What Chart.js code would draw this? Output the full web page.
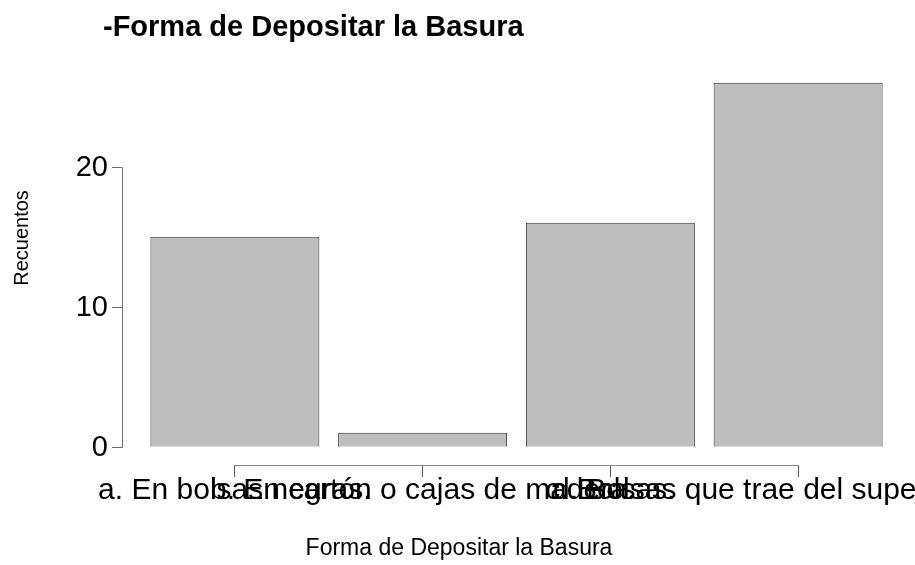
<!DOCTYPE html>
<html>
<head>
<meta charset="utf-8">
<script src="https://cdn.jsdelivr.net/npm/chart.js@4/dist/chart.umd.min.js"></script>
<style>
  html, body { margin: 0; padding: 0; background: #fff; }
  #wrap { width: 915px; height: 565px; }
</style>
</head>
<body>
<div id="wrap"><canvas id="chart"></canvas></div>
<script>
// categories and counts
const categories = [
    'a. En bolsas negras.',
    'b. En cartón o cajas de madera.',
    'c. Bolsas.',
    'd. Bolsas que trae del supermercado'
];
const counts = [15, 1, 16, 26];
const yTicks = [0, 10, 20];

const FONT = "'Liberation Sans', Arial, Helvetica, sans-serif";

// R-style y axis, x axis line and titles
const rAxes = {
    id: 'rAxes',
    afterDraw(chart) {
        const ctx = chart.ctx;
        const y = chart.scales.y;
        const x = chart.scales.x;
        const axX = 122;
        ctx.save();
        ctx.strokeStyle = '#707070';
        ctx.lineWidth = 1;
        ctx.beginPath();
        ctx.moveTo(axX + 0.5, Math.round(y.getPixelForValue(yTicks[0])) + 0.5);
        ctx.lineTo(axX + 0.5, Math.round(y.getPixelForValue(yTicks[yTicks.length - 1])) + 0.5);
        yTicks.forEach(v => {
            const py = Math.round(y.getPixelForValue(v)) + 0.5;
            ctx.moveTo(axX + 0.5, py);
            ctx.lineTo(axX - 10, py);
        });
        ctx.stroke();

        ctx.fillStyle = '#000';
        ctx.font = '29px ' + FONT;
        ctx.textAlign = 'right';
        ctx.textBaseline = 'middle';
        yTicks.forEach(v => ctx.fillText(String(v), 108, y.getPixelForValue(v) + 1));

        // x axis line between first and last tick
        const bx = chart.chartArea.bottom;
        ctx.strokeStyle = '#8a8a8a';
        ctx.beginPath();
        ctx.moveTo(x.getPixelForValue(0), bx + 0.5);
        ctx.lineTo(x.getPixelForValue(categories.length - 1) + 1, bx + 0.5);
        ctx.stroke();

        // titles
        ctx.font = 'bold 29px ' + FONT;
        ctx.textAlign = 'left';
        ctx.fillText('-Forma de Depositar la Basura', 103, 28);

        ctx.font = '23px ' + FONT;
        ctx.textAlign = 'center';
        ctx.fillText('Forma de Depositar la Basura', 459, 549);

        ctx.font = '20px ' + FONT;
        ctx.translate(22, 238);
        ctx.rotate(-Math.PI / 2);
        ctx.fillText('Recuentos', 0, 0);
        ctx.restore();
    }
};

new Chart(document.getElementById('chart'), {
    type: 'bar',
    data: {
        labels: categories,
        datasets: [{
            data: counts,
            backgroundColor: '#bebebe',
            borderColor: '#333',
            borderWidth: 1,
            barPercentage: 0.9,
            categoryPercentage: 1
        }]
    },
    options: {
        responsive: true,
        maintainAspectRatio: false,
        animation: false,
        layout: { padding: { left: 141, right: 23, top: 68, bottom: 0 } },
        plugins: {
            legend: { display: false },
            tooltip: { enabled: false },
            title: { display: false }
        },
        scales: {
            y: {
                display: false,
                min: -1.31,
                max: 27.05
            },
            x: {
                offset: true,
                grid: {
                    drawOnChartArea: false,
                    drawTicks: true,
                    tickLength: 12,
                    color: '#555',
                    offset: false
                },
                border: { display: false },
                ticks: {
                    autoSkip: false,
                    maxRotation: 0,
                    minRotation: 0,
                    padding: -4,
                    color: '#000',
                    font: { family: FONT, size: 30 }
                },
                afterFit(scale) {
                    scale.height = 100;
                    scale.paddingLeft = 0;
                    scale.paddingRight = 0;
                }
            }
        }
    },
    plugins: [rAxes]
});
</script>
</body>
</html>
